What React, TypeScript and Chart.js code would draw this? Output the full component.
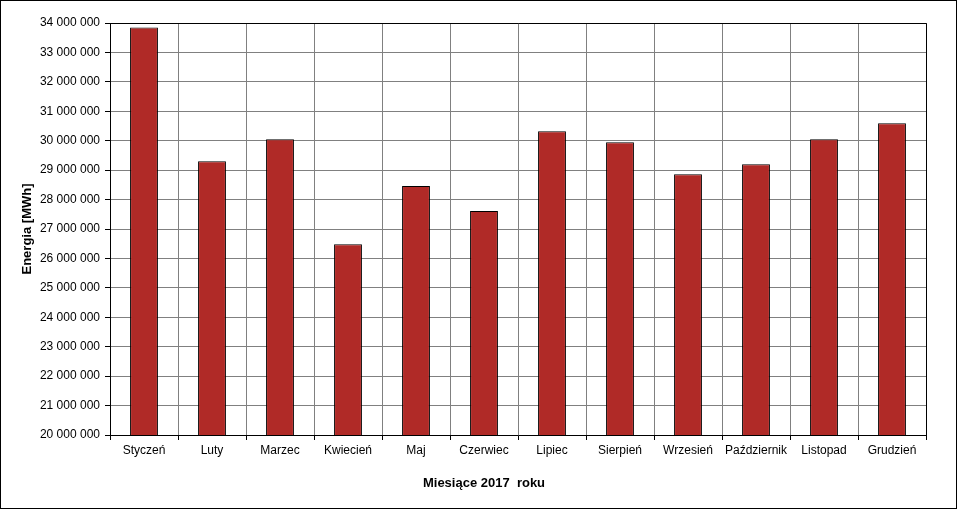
import React, { useEffect, useRef } from "react";
import { Chart, registerables } from "chart.js";

Chart.register(...registerables);

const months = [
  "Styczeń", "Luty", "Marzec", "Kwiecień", "Maj", "Czerwiec",
  "Lipiec", "Sierpień", "Wrzesień", "Październik", "Listopad", "Grudzień",
];
const energy = [
  33850000, 29300000, 30050000, 26480000, 28460000, 27610000,
  30320000, 29950000, 28860000, 29200000, 30050000, 30590000,
];
const yMin = 20000000;
const yMax = 34000000;
const yStep = 1000000;
const yTitle = "Energia [MWh]";
const xTitle = "Miesiące 2017  roku";

const FONT = "'Liberation Sans', Arial, sans-serif";

const fmt = (v: number) =>
  Math.round(v).toString().replace(/\B(?=(\d{3})+(?!\d))/g, " ");

const framePlugin = {
  id: "frame",
  afterDraw(chart: any) {
    const { ctx, chartArea } = chart;
    ctx.save();
    ctx.strokeStyle = "#000";
    ctx.lineWidth = 1;
    ctx.beginPath();
    ctx.moveTo(Math.round(chartArea.left) + 0.5, Math.round(chartArea.top) + 0.5);
    ctx.lineTo(Math.round(chartArea.right) + 0.5, Math.round(chartArea.top) + 0.5);
    ctx.lineTo(Math.round(chartArea.right) + 0.5, Math.round(chartArea.bottom) + 0.5);
    ctx.stroke();
    ctx.strokeRect(0.5, 0.5, 956, 508);
    ctx.fillStyle = "#000";
    ctx.font = `bold 13px ${FONT}`;
    ctx.textAlign = "center";
    ctx.textBaseline = "middle";
    ctx.fillText(xTitle, 484, 483);
    ctx.translate(27, (chartArea.top + chartArea.bottom) / 2);
    ctx.rotate(-Math.PI / 2);
    ctx.fillText(yTitle, 0, 0);
    ctx.restore();
  },
};

export default function App() {
  const ref = useRef<HTMLCanvasElement>(null);
  useEffect(() => {
    document.body.style.margin = "0";
    const chart = new Chart(ref.current!, {
      type: "bar",
      data: {
        labels: months,
        datasets: [
          {
            data: energy,
            backgroundColor: "#B02A27",
            borderColor: "#000",
            borderWidth: 1,
            borderSkipped: false,
            barPercentage: 0.41,
            categoryPercentage: 1,
          },
        ],
      },
      options: {
        responsive: false,
        animation: false,
        layout: { padding: { left: 0, top: 23, right: 32, bottom: 0 } },
        plugins: {
          legend: { display: false },
          tooltip: { enabled: false },
          title: { display: false },
        },
        scales: {
          x: {
            grid: {
              color: "#808080",
              tickColor: "#000",
              tickLength: 5,
              offset: true,
            },
            border: { color: "#000" },
            ticks: {
              color: "#000",
              font: { family: FONT, size: 12 },
              padding: 3,
              maxRotation: 0,
              autoSkip: false,
            },
            afterFit(scale: any) {
              scale.height = 77;
            },
          },
          y: {
            min: yMin,
            max: yMax,
            grid: {
              color: "#808080",
              tickColor: "#000",
              tickLength: 5,
            },
            border: { color: "#000" },
            ticks: {
              stepSize: yStep,
              color: "#000",
              font: { family: FONT, size: 12 },
              padding: 5,
              callback: (v: any) => fmt(Number(v)),
            },
            afterFit(scale: any) {
              scale.width = 110;
            },
          },
        },
      },
      plugins: [framePlugin],
    });
    return () => chart.destroy();
  }, []);
  return <canvas ref={ref} width={958} height={512} />;
}
